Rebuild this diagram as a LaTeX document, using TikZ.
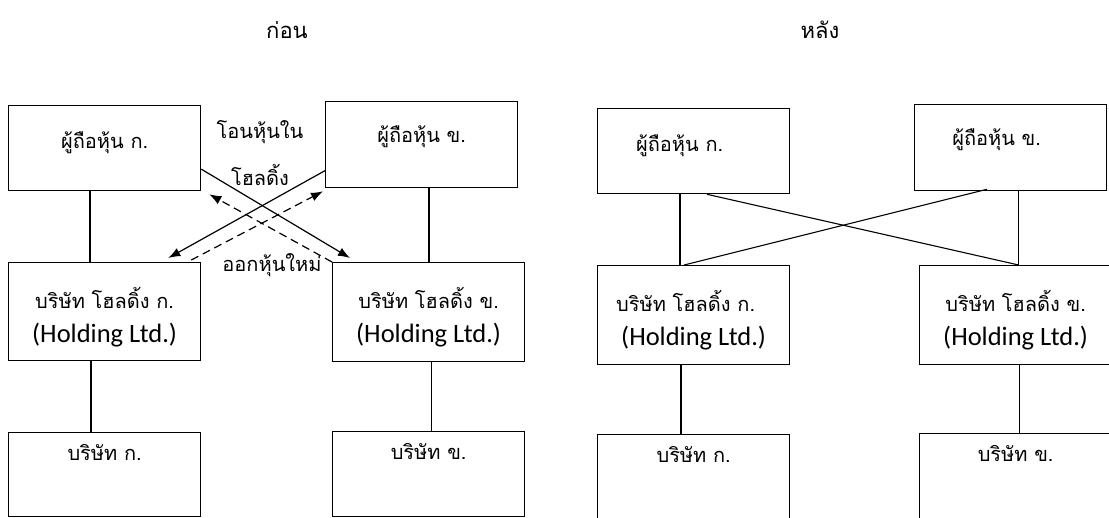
\documentclass[tikz,border=0pt]{standalone}
\usepackage{fontspec}
\setmainfont{Carlito}
\newfontfamily\thaifont[Script=Thai]{Loma}
\usetikzlibrary{shapes,arrows,arrows.meta,positioning}
\tikzstyle{line} = [draw, line width=1.2pt, -{Latex[length=12pt,width=9pt]}]
\tikzstyle{dline} = [line, dash pattern=on 8pt off 5pt]
\tikzstyle{link} = [draw, line width=1.1pt]
\tikzstyle{box} = [draw, line width=1.3pt, anchor=north west, inner sep=0pt, minimum width=192pt]
\tikzstyle{thai} = [font=\thaifont\fontsize{20}{24}\selectfont]
\tikzstyle{title} = [font=\thaifont\fontsize{22}{26}\selectfont]
\tikzstyle{eng} = [font=\fontsize{26.5}{30}\selectfont]

\begin{document}
\begin{tikzpicture}[x=1pt,y=-1pt]
\useasboundingbox (0,0) rectangle (1109,517);
%
\node[title] (before) at (287,30) {ก่อน};
\node[title] (after) at (820,30) {หลัง};
%
\node[box, minimum height=85pt] (sa) at (8,105) {};
\node[box, minimum height=86pt] (sb) at (325,101) {};
\node[box, minimum height=98pt] (ha) at (8,262) {};
\node[box, minimum height=99pt] (hb) at (332,262) {};
\node[box, minimum height=84pt] (ca) at (8,432) {};
\node[box, minimum height=85pt] (cb) at (332,431) {};
%
\node[thai, anchor=base] (sa-t) at ([yshift=-43pt]sa.north) {ผู้ถือหุ้น ก.};
\node[thai, anchor=base] (sb-t) at ([yshift=-41pt]sb.north) {ผู้ถือหุ้น ข.};
\node[thai, anchor=base] (ha-t) at ([yshift=-46pt]ha.north) {บริษัท โฮลดิ้ง ก.};
\node[eng, anchor=base] (ha-e) at ([yshift=-80pt]ha.north) {(Holding Ltd.)};
\node[thai, anchor=base] (hb-t) at ([yshift=-46pt]hb.north) {บริษัท โฮลดิ้ง ข.};
\node[eng, anchor=base] (hb-e) at ([yshift=-80pt]hb.north) {(Holding Ltd.)};
\node[thai, anchor=base] (ca-t) at ([yshift=-28pt]ca.north) {บริษัท ก.};
\node[thai, anchor=base] (cb-t) at ([yshift=-28pt]cb.north) {บริษัท ข.};
%
\draw[link] ([xshift=82pt]sa.south west) -- ([xshift=82pt]ha.north west);
\draw[link] ([xshift=83pt]ha.south west) -- ([xshift=83pt]ca.north west);
\draw[link] ([xshift=97pt]hb.north west) -- ([xshift=97pt]hb.north west |- sb.south);
\draw[link] ([xshift=3pt]hb.south) -- ([xshift=3pt]cb.north);
%
\path[line] ([yshift=-21pt]sa.east) -- ([xshift=18pt,yshift=4pt]hb.north west);
\path[line] ([yshift=-26pt]sb.west) -- ([xshift=-33pt,yshift=4pt]ha.north east);
\path[dline] ([xshift=-10pt,yshift=2pt]ha.north east) -- ([xshift=-2pt,yshift=-3pt]sb.south west);
\path[dline] (hb.north west) -- ([xshift=8pt,yshift=-3pt]sa.south east);
%
\node[thai] (move1) at (260,132) {โอนหุ้นใน};
\node[thai] (move2) at (260,175) {โฮลดิ้ง};
\node[thai] (issue) at (272,265) {ออกหุ้นใหม่};
%
\node[box, minimum height=85pt] (rsa) at (597,108) {};
\node[box, minimum height=86pt] (rsb) at (914,104) {};
\node[box, minimum height=99pt] (rha) at (597,265) {};
\node[box, minimum height=99pt] (rhb) at (919,265) {};
\node[box, minimum height=90pt] (rca) at (597,434) {};
\node[box, minimum height=90pt] (rcb) at (919,433) {};
%
\node[thai, anchor=base] (rsa-t) at ([xshift=-14pt,yshift=-43pt]rsa.north) {ผู้ถือหุ้น ก.};
\node[thai, anchor=base] (rsb-t) at ([xshift=-14pt,yshift=-41pt]rsb.north) {ผู้ถือหุ้น ข.};
\node[thai, anchor=base] (rha-t) at ([xshift=-8pt,yshift=-46pt]rha.north) {บริษัท โฮลดิ้ง ก.};
\node[eng, anchor=base] (rha-e) at ([yshift=-80pt]rha.north) {(Holding Ltd.)};
\node[thai, anchor=base] (rhb-t) at ([yshift=-46pt]rhb.north) {บริษัท โฮลดิ้ง ข.};
\node[eng, anchor=base] (rhb-e) at ([yshift=-80pt]rhb.north) {(Holding Ltd.)};
\node[thai, anchor=base] (rca-t) at ([yshift=-28pt]rca.north) {บริษัท ก.};
\node[thai, anchor=base] (rcb-t) at ([yshift=-28pt]rcb.north) {บริษัท ข.};
%
\draw[link] ([xshift=83pt]rsa.south west) -- ([xshift=83pt]rha.north west);
\draw[link] ([xshift=84pt]rha.south west) -- ([xshift=84pt]rca.north west);
\draw[link] ([xshift=3pt]rhb.north) -- ([xshift=3pt]rhb.north |- rsb.south);
\draw[link] ([xshift=4pt]rhb.south) -- ([xshift=4pt]rcb.north);
\draw[link] ([xshift=110pt]rsa.south west) -- ([xshift=3pt]rhb.north);
\draw[link] ([xshift=87pt]rha.north west) -- ([xshift=73pt,yshift=2pt]rsb.south west);
\end{tikzpicture}
\end{document}
